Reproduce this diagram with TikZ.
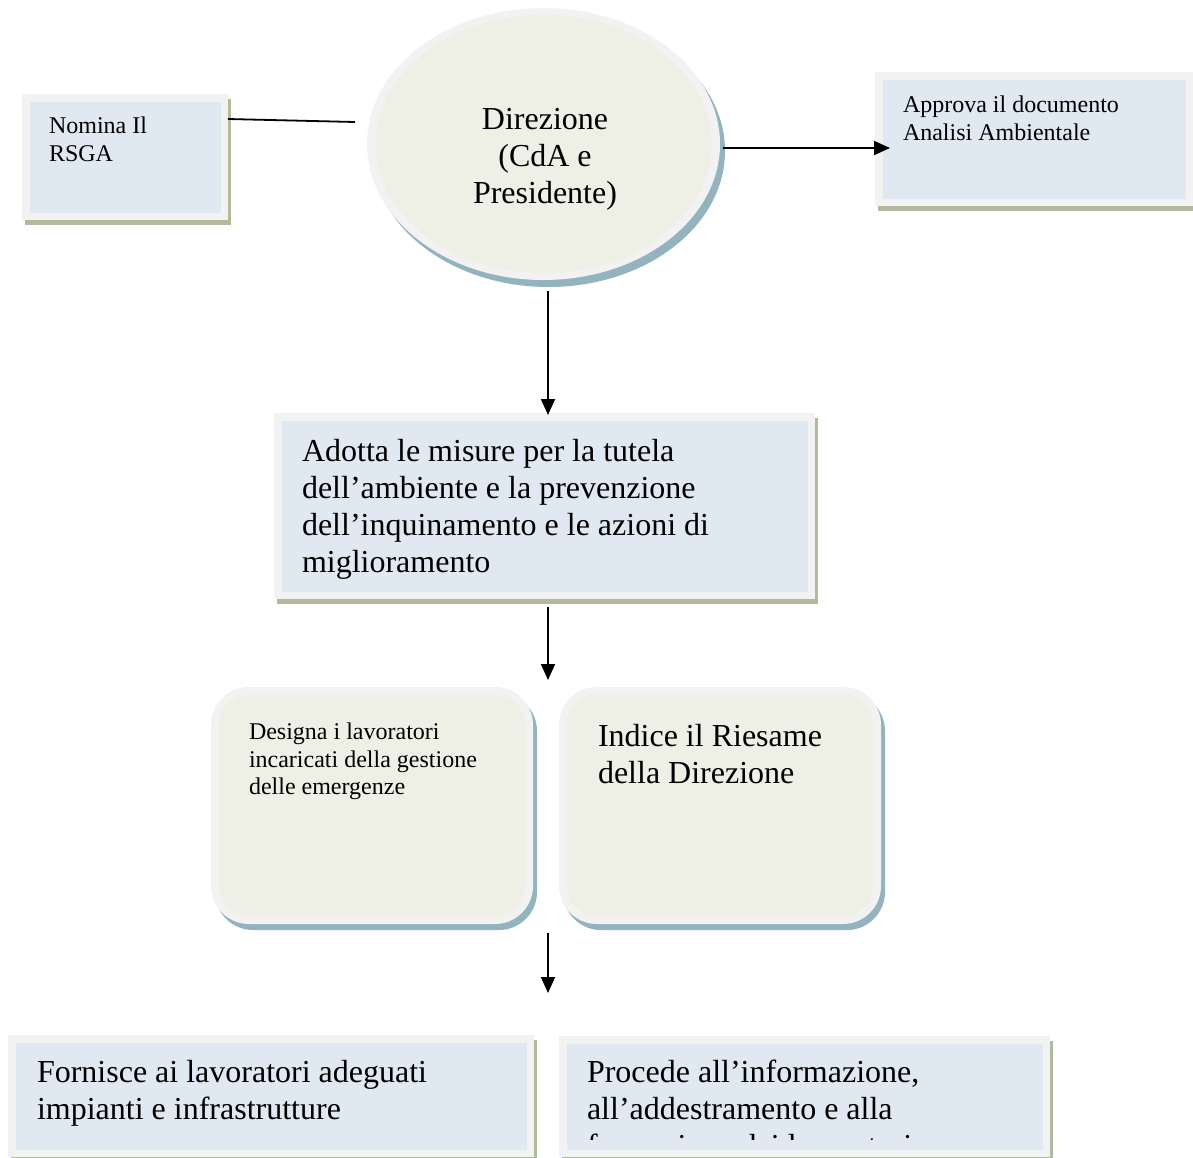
\documentclass[tikz,border=0pt]{standalone}
\usepackage{fontspec}
\setmainfont{Liberation Serif}
\usetikzlibrary{arrows.meta,shapes.geometric,shadows,calc}
\definecolor{framegray}{HTML}{F2F2F2}
\definecolor{boxblue}{HTML}{E0E8F1}
\definecolor{ellfill}{HTML}{EEF0E5}
\definecolor{olivesh}{HTML}{B2BA9C}
\definecolor{bluesh}{HTML}{93B3BF}
\begin{document}
\begin{tikzpicture}[x=1pt,y=-1pt,
  sz/.style 2 args={minimum width=#1pt, minimum height=#2pt},
  sqbox/.style={rectangle, draw=none, inner sep=0pt, outer sep=0pt, anchor=north west, fill=framegray,
    general shadow={shadow xshift=3pt, shadow yshift=-5pt, fill=olivesh},
    path picture={\fill[boxblue] ([shift={(8pt,-8pt)}]path picture bounding box.north west) rectangle ([shift={(-7pt,7pt)}]path picture bounding box.south east);}},
  rbox/.style={rectangle, rounded corners=38pt, draw=none, inner sep=0pt, outer sep=0pt, anchor=north west, fill=framegray,
    general shadow={shadow xshift=4pt, shadow yshift=-6pt, fill=bluesh},
    path picture={\fill[ellfill, rounded corners=30pt] ([shift={(8pt,-8pt)}]path picture bounding box.north west) rectangle ([shift={(-8pt,8pt)}]path picture bounding box.south east);}},
  ellbox/.style={ellipse, draw=none, inner sep=0pt, outer sep=0pt, fill=framegray,
    general shadow={shadow xshift=5pt, shadow yshift=-7pt, fill=bluesh},
    path picture={\fill[ellfill] (path picture bounding box.center) ellipse [x radius=168pt, y radius=129pt];}},
  bigtxt/.style={font=\fontsize{32}{37}\selectfont, align=left, inner sep=0pt, outer sep=0pt, anchor=north west},
  smalltxt/.style={font=\fontsize{24}{27.5}\selectfont, align=left, inner sep=0pt, outer sep=0pt, anchor=north west},
  conn/.style={line width=1.8pt, black},
  arr/.style={conn, -{Triangle[width=14pt,length=16pt]}}
]
\useasboundingbox (0,0) rectangle (1193,1157);
\fill[white] (0,0) rectangle (1193,1157);

% shapes
\node[sqbox, sz={206}{126}] (nomina) at (22,94) {};
\node[sqbox, sz={318}{134}] (appr) at (875,72) {};
\node[ellbox, sz={353}{272}] (dir) at (543.5,144) {};
\node[sqbox, sz={541}{186}] (adotta) at (274,413) {};
\node[rbox, sz={322}{237}] (desig) at (211,687) {};
\node[rbox, sz={322}{237}] (indice) at (559,687) {};
\node[sqbox, sz={526}{122}] (forn) at (8,1035) {};
\node[sqbox, sz={491}{121}] (proc) at (559,1036) {};

% texts
\node[smalltxt] (nominat) at (49,117) {Nomina Il\\RSGA};
\node[smalltxt] (apprt) at (903,96) {Approva il documento\\Analisi Ambientale};
\node[bigtxt, align=center, anchor=north] (dirt) at (545,108) {Direzione\\(CdA e\\Presidente)};
\node[bigtxt] (adottat) at (302,439) {Adotta le misure per la tutela\\dell’ambiente e la prevenzione\\dell’inquinamento e le azioni di\\miglioramento};
\node[smalltxt] (desigt) at (249,723) {Designa i lavoratori\\incaricati della gestione\\delle emergenze};
\node[bigtxt] (indicet) at (598,724) {Indice il Riesame\\della Direzione};
\node[bigtxt] (fornt) at (37,1060) {Fornisce ai lavoratori adeguati\\impianti e infrastrutture};
\begin{scope}
  \clip (0,0) rectangle (1193,1139);
  \node[bigtxt] (proct) at (587,1060) {Procede all’informazione,\\all’addestramento e alla\\formazione dei lavoratori};
\end{scope}

% connectors
\coordinate (nomfree) at (355,122);
\draw[conn] ([shift={(0,25)}]nomina.north east) -- (nomfree);
\draw[arr] ([shift={(3,4)}]dir.east) -- ([shift={(15,9)}]appr.west);
\draw[arr] ([shift={(4.5,11)}]dir.south) -- ([shift={(3.5,2)}]adotta.north);
\coordinate (g1) at (548,680);
\draw[arr] ([shift={(3.5,8)}]adotta.south) -- (g1);
\coordinate (g2a) at (548,933);
\coordinate (g2b) at (548,993);
\draw[arr] (g2a) -- (g2b);
\end{tikzpicture}
\end{document}
